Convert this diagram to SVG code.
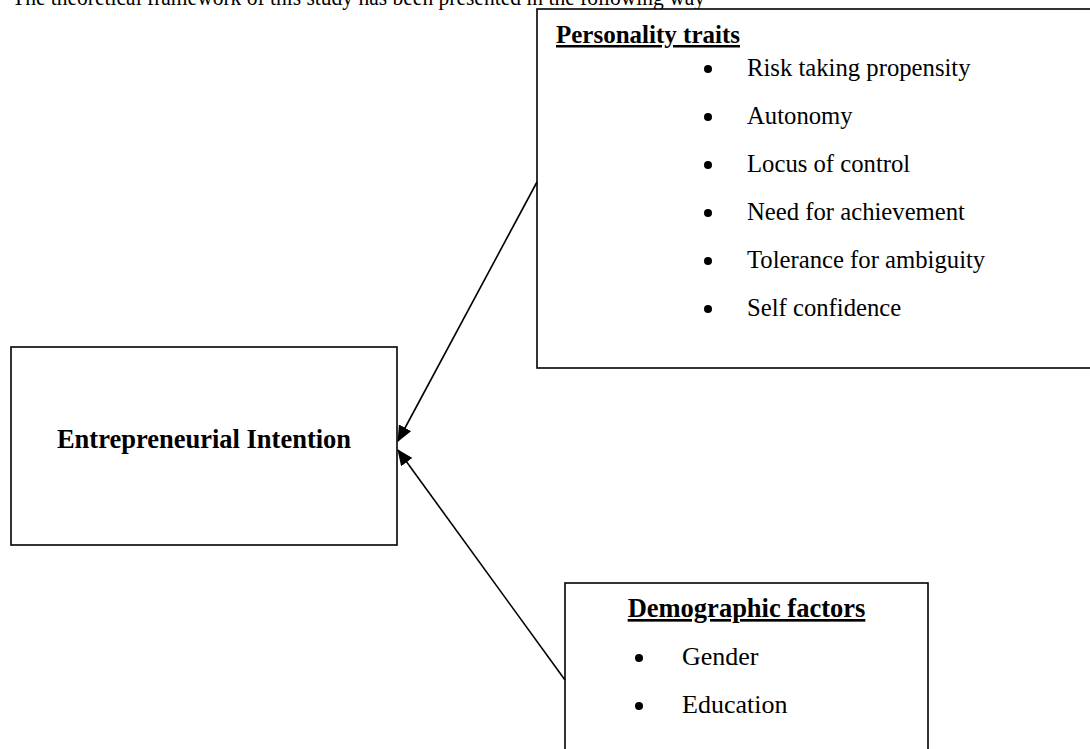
<svg xmlns="http://www.w3.org/2000/svg" width="1090" height="749" viewBox="0 0 1090 749">
<style>
.box{fill:#fff;stroke:#000;stroke-width:1.6}
.t{font-family:"Liberation Serif","Times New Roman",serif;fill:#000}
.b{font-weight:bold}
.u{text-decoration:underline}
.con{stroke:#000;stroke-width:1.6;fill:none}
</style>
<defs>
<marker id="ah" markerWidth="16" markerHeight="14" refX="15" refY="7" orient="auto" markerUnits="userSpaceOnUse">
<path d="M0,0 L16,7 L0,14 Z" fill="#000"/>
</marker>
</defs>
<rect width="1090" height="749" fill="#fff"/>
<text class="t" x="12" y="5" font-size="24" textLength="693" lengthAdjust="spacingAndGlyphs">The theoretical framework of this study has been presented in the following way</text>
<g id="personality">
<rect class="box" x="537" y="9" width="560" height="359"/>
<text class="t b u" x="556" y="43" font-size="25">Personality traits</text>
<g class="t" font-size="24.7">
<circle cx="708" cy="69" r="4"/><text x="747" y="76">Risk taking propensity</text>
<circle cx="708" cy="117" r="4"/><text x="747" y="124">Autonomy</text>
<circle cx="708" cy="165" r="4"/><text x="747" y="172">Locus of control</text>
<circle cx="708" cy="213" r="4"/><text x="747" y="220">Need for achievement</text>
<circle cx="708" cy="261" r="4"/><text x="747" y="268">Tolerance for ambiguity</text>
<circle cx="708" cy="309" r="4"/><text x="747" y="316">Self confidence</text>
</g>
</g>
<g id="intention">
<rect class="box" x="11" y="347" width="386" height="198"/>
<text class="t b" x="204" y="448" font-size="26.5" text-anchor="middle">Entrepreneurial Intention</text>
</g>
<g id="demographic">
<rect class="box" x="565" y="583" width="363" height="180"/>
<text class="t b u" x="746.5" y="617" font-size="26.5" text-anchor="middle">Demographic factors</text>
<g class="t" font-size="26">
<circle cx="639" cy="658" r="4"/><text x="682" y="665">Gender</text>
<circle cx="639" cy="706" r="4"/><text x="682" y="713">Education</text>
</g>
</g>
<g id="connectors">
<line class="con" x1="537" y1="182" x2="398" y2="441" marker-end="url(#ah)"/>
<line class="con" x1="565" y1="680" x2="398" y2="450" marker-end="url(#ah)"/>
</g>
</svg>
